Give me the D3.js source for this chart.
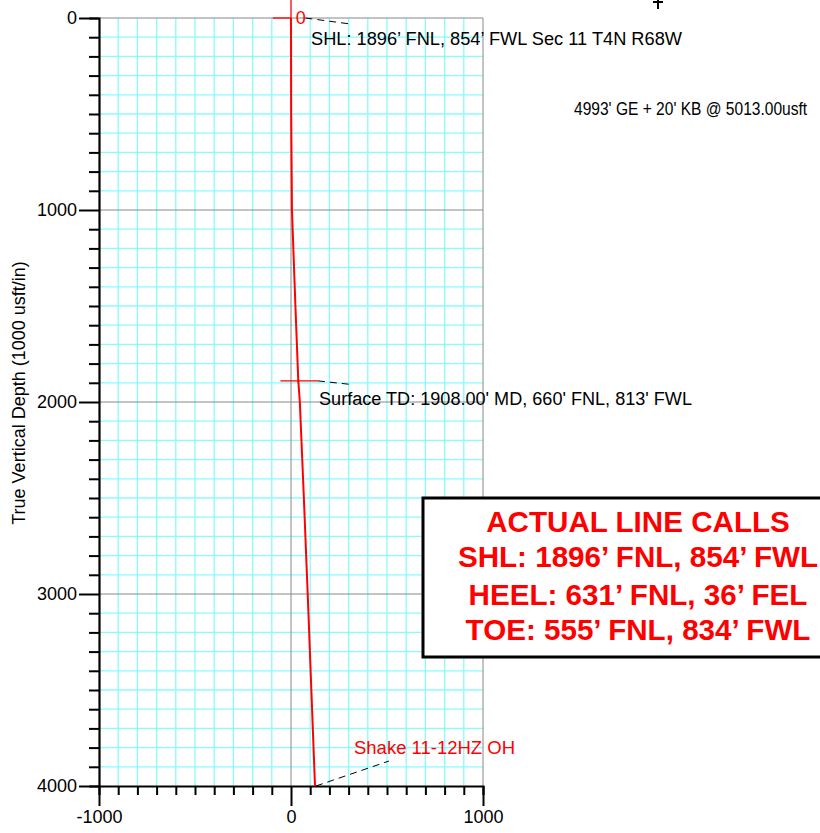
<!DOCTYPE html>
<html lang="en">
  <head>
    <meta charset="UTF-8" />
    <style>
      body { margin: 0; background: #fff; }
      svg { font-family: Arial, "Liberation Sans", sans-serif; }
    </style>
    <script src="https://d3js.org/d3.v7.min.js"></script>
    <title>Vertical Section</title>
  </head>
  <body>
    <script>
      // well path: true vertical depth vs horizontal offset (usft)
      var tvd = [0, 500, 1000, 1500, 1890, 2000, 2500, 3000, 3500, 4000];
      var offset = [0, 1, 5, 23, 38, 46, 67, 87, 106, 125];

      var xTicks = [-1000, 0, 1000];
      var yTicks = [0, 1000, 2000, 3000, 4000];

      var lineCalls = [
        "ACTUAL LINE CALLS",
        "SHL: 1896\u2019 FNL, 854\u2019 FWL",
        "HEEL: 631\u2019 FNL, 36\u2019 FEL",
        "TOE: 555\u2019 FNL, 834\u2019 FWL"
      ];

      var width = 820, height = 833;
      var svg = d3.select("body").append("svg")
        .attr("width", width)
        .attr("height", height);

      var x = d3.scaleLinear().domain([-1000, 1000]).range([99, 483]);
      var y = d3.scaleLinear().domain([0, 4000]).range([18, 786]);

      var minor = d3.range(-1000, 1001, 100);
      var minorY = d3.range(0, 4001, 100);
      var plain = function (d) { return String(d); };

      // cyan grid every 100
      var grid = svg.append("g");
      grid.selectAll(".vx").data(minor.filter(function (d) { return d % 1000 != 0; }))
        .enter().append("line")
        .attr("x1", function (d) { return x(d); }).attr("x2", function (d) { return x(d); })
        .attr("y1", y(0)).attr("y2", y(4000))
        .attr("stroke", "#88fcfc").attr("stroke-width", 1.3);
      grid.selectAll(".hy").data(minorY.filter(function (d) { return d % 1000 != 0; }))
        .enter().append("line")
        .attr("y1", function (d) { return y(d); }).attr("y2", function (d) { return y(d); })
        .attr("x1", x(-1000)).attr("x2", x(1000))
        .attr("stroke", "#88fcfc").attr("stroke-width", 1.3);

      // grey major lines
      grid.selectAll(".mx").data([0, 1000])
        .enter().append("line")
        .attr("x1", function (d) { return x(d); }).attr("x2", function (d) { return x(d); })
        .attr("y1", y(0)).attr("y2", y(4000))
        .attr("stroke", "#888").attr("stroke-width", 1);
      grid.selectAll(".my").data([0, 1000, 2000, 3000])
        .enter().append("line")
        .attr("y1", function (d) { return y(d); }).attr("y2", function (d) { return y(d); })
        .attr("x1", x(-1000)).attr("x2", x(1000))
        .attr("stroke", "#888").attr("stroke-width", 1);

      // axes
      var yAxis = svg.append("g").attr("transform", "translate(" + x(-1000) + ",0)");
      yAxis.call(d3.axisLeft(y).tickValues(minorY).tickSize(10).tickFormat(""));
      yAxis.call(function (g) {
        g.selectAll(".tick").filter(function (d) { return d % 1000 == 0; })
          .select("line").attr("x2", -20);
      });
      svg.append("g").attr("transform", "translate(" + x(-1000) + ",0)")
        .call(d3.axisLeft(y).tickValues(yTicks).tickSize(20).tickPadding(2).tickFormat(plain))
        .call(function (g) { g.select(".domain").remove(); g.selectAll("line").remove(); })
        .selectAll("text").attr("font-size", 18).attr("font-family", "Arial, sans-serif").attr("fill", "#000");

      var xAxis = svg.append("g").attr("transform", "translate(0," + y(4000) + ")");
      xAxis.call(d3.axisBottom(x).tickValues(minor).tickSize(9).tickFormat(""));
      xAxis.call(function (g) {
        g.selectAll(".tick").filter(function (d) { return d % 1000 == 0; })
          .select("line").attr("y2", 20);
      });
      svg.append("g").attr("transform", "translate(0," + y(4000) + ")")
        .call(d3.axisBottom(x).tickValues(xTicks).tickSize(20).tickPadding(4).tickFormat(plain))
        .call(function (g) { g.select(".domain").remove(); g.selectAll("line").remove(); })
        .selectAll("text").attr("font-size", 18).attr("font-family", "Arial, sans-serif").attr("fill", "#000");

      [yAxis, xAxis].forEach(function (g) {
        g.selectAll("path.domain").attr("stroke", "#000").attr("stroke-width", 2.2);
        g.selectAll(".tick line").attr("stroke", "#000").attr("stroke-width", 2);
      });

      svg.append("text")
        .attr("transform", "translate(25,393) rotate(-90)")
        .attr("text-anchor", "middle")
        .attr("font-size", 18)
        .text("True Vertical Depth (1000 usft/in)");

      // well path
      var pts = tvd.map(function (d, i) { return [offset[i], d]; });
      svg.append("path")
        .datum(pts)
        .attr("fill", "none")
        .attr("stroke", "#f00")
        .attr("stroke-width", 2)
        .attr("d", d3.line().x(function (d) { return x(d[0]); }).y(function (d) { return y(d[1]); }));

      // markers: surface location and surface TD
      svg.append("line").attr("x1", x(-95)).attr("x2", x(0)).attr("y1", y(0)).attr("y2", y(0))
        .attr("stroke", "#f00").attr("stroke-width", 1.3);
      svg.append("line").attr("x1", x(0)).attr("x2", x(0)).attr("y1", 0).attr("y2", y(0))
        .attr("stroke", "#f00").attr("stroke-width", 1.3);
      svg.append("text").attr("x", x(25)).attr("y", y(0) + 6)
        .attr("fill", "#f00").attr("font-size", 18).text("0");
      svg.append("line").attr("x1", x(-55)).attr("x2", x(140)).attr("y1", y(1890)).attr("y2", y(1890))
        .attr("stroke", "#f00").attr("stroke-width", 1.3);
      svg.append("line").attr("x1", x(38)).attr("x2", x(38)).attr("y1", y(1880)).attr("y2", y(1900))
        .attr("stroke", "#f00").attr("stroke-width", 1);

      // dashed leaders
      var leaders = [
        [[75, 0], [300, 30]],
        [[140, 1890], [325, 1910]],
        [[130, 4000], [510, 3870]]
      ];
      svg.selectAll(".lead").data(leaders).enter().append("line")
        .attr("x1", function (d) { return x(d[0][0]); })
        .attr("y1", function (d) { return y(d[0][1]); })
        .attr("x2", function (d) { return x(d[1][0]); })
        .attr("y2", function (d) { return y(d[1][1]); })
        .attr("stroke", "#000").attr("stroke-width", 1)
        .attr("stroke-dasharray", "7,5");

      // annotations
      svg.append("text").attr("x", 311).attr("y", 45).attr("font-size", 18)
        .attr("textLength", 371).attr("lengthAdjust", "spacingAndGlyphs")
        .text("SHL: 1896\u2019 FNL, 854\u2019 FWL Sec 11 T4N R68W");
      // condensed elevation note
      svg.append("text").attr("transform", "translate(574,115) scale(0.865,1)")
        .attr("font-size", 18)
        .text("4993' GE + 20' KB @ 5013.00usft");
      svg.append("text").attr("x", 319).attr("y", 405).attr("font-size", 18)
        .attr("textLength", 373).attr("lengthAdjust", "spacingAndGlyphs")
        .text("Surface TD: 1908.00' MD, 660' FNL, 813' FWL");
      svg.append("text").attr("x", 354).attr("y", 754).attr("font-size", 18).attr("fill", "#f00")
        .attr("textLength", 161).attr("lengthAdjust", "spacingAndGlyphs")
        .text("Shake 11-12HZ OH");

      // north arrow stub at top
      svg.append("path").attr("d", "M658,0 V9 M653,2 H663")
        .attr("stroke", "#000").attr("stroke-width", 2).attr("fill", "none");

      // line calls box
      svg.append("rect").attr("x", 423).attr("y", 498).attr("width", 420).attr("height", 159)
        .attr("fill", "#fff").attr("stroke", "#000").attr("stroke-width", 3);
      svg.selectAll(".call").data(lineCalls).enter().append("text")
        .attr("x", 638)
        .attr("y", function (d, i) { return [532, 567, 605, 640][i]; })
        .attr("text-anchor", "middle")
        .attr("font-size", 29.6).attr("font-weight", "bold").attr("fill", "#f00")
        .text(function (d) { return d; });
    </script>
  </body>
</html>
